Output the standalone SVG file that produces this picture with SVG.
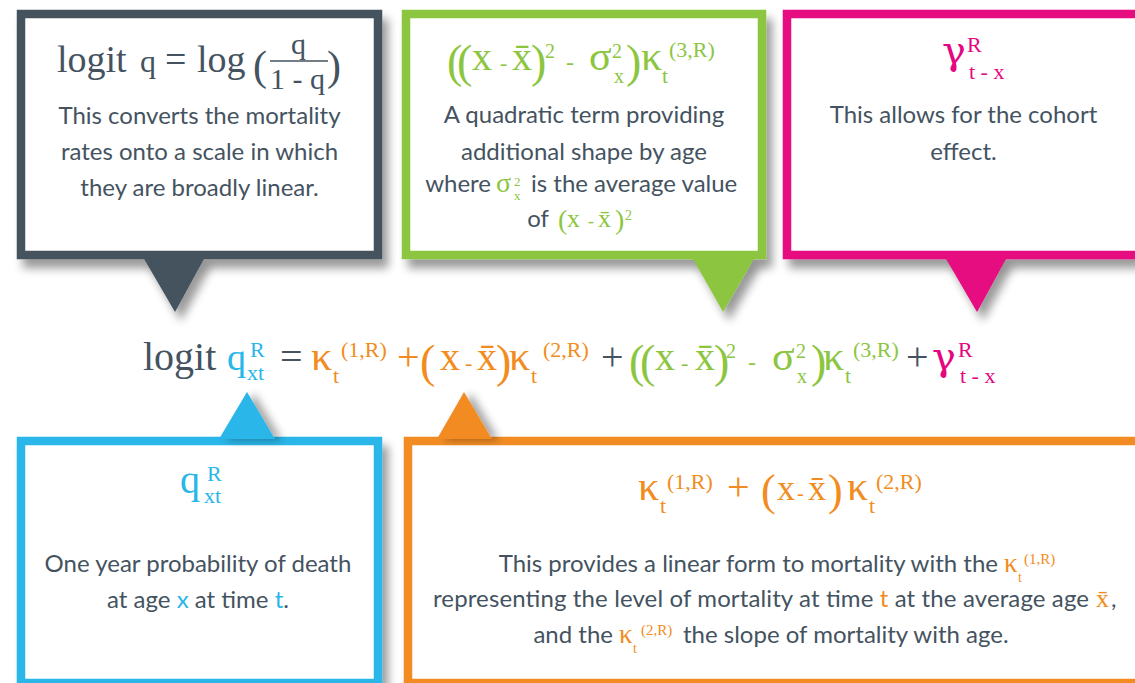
<svg xmlns="http://www.w3.org/2000/svg" width="1135" height="683" viewBox="0 0 1135 683">
<defs>
<filter id="sh" x="-10%" y="-10%" width="130%" height="140%">
<feGaussianBlur in="SourceAlpha" stdDeviation="5"/>
<feOffset dx="6" dy="9" result="o"/>
<feComponentTransfer><feFuncA type="linear" slope="0.4"/></feComponentTransfer>
<feMerge><feMergeNode/><feMergeNode in="SourceGraphic"/></feMerge>
</filter>
<filter id="sh2" x="-30%" y="-30%" width="160%" height="160%">
<feGaussianBlur in="SourceAlpha" stdDeviation="4"/>
<feOffset dx="7" dy="1"/>
<feComponentTransfer><feFuncA type="linear" slope="0.35"/></feComponentTransfer>
<feMerge><feMergeNode/><feMergeNode in="SourceGraphic"/></feMerge>
</filter>
<style>
.frame{fill:#fff;stroke-width:8.5}
.m{font-family:"Liberation Serif","Times New Roman",serif}
.g{font-family:"DejaVu Serif",serif}
.b{font-family:Lato,"Open Sans",sans-serif;font-size:24px;fill:#44535f}
.c{text-anchor:middle}
.e{text-anchor:end}
.dk{fill:#44535f}.gr{fill:#8cc63f}.mg{fill:#e5077f}.cy{fill:#29b6e8}.or{fill:#f28c20}
.sdk{stroke:#44535f}.sgr{stroke:#8cc63f}.smg{stroke:#e5077f}.scy{stroke:#29b6e8}.sor{stroke:#f28c20}
</style>
</defs>
<rect width="1135" height="683" fill="#fff"/>

<g id="node-logit">
<rect class="frame sdk" x="21" y="14" width="357" height="241" filter="url(#sh)"/>
<g class="m dk">
<text x="57" y="72" font-size="38">logit</text>
<text x="140" y="72" font-size="32">q</text>
<text x="165" y="72" font-size="38">=</text>
<text x="197" y="72" font-size="38">log</text>
<text x="253" y="80" font-size="42">(</text>
<text x="291" y="54" font-size="30">q</text>
<line x1="270" y1="61" x2="328" y2="61" stroke="#44535f" stroke-width="1.5"/>
<text x="270" y="89" font-size="30">1 - q</text>
<text x="327" y="80" font-size="42">)</text>
</g>
<text class="b c" x="199.5" y="124">This converts the mortality</text>
<text class="b c" x="199.5" y="160">rates onto a scale in which</text>
<text class="b c" x="199.5" y="196">they are broadly linear.</text>
</g>

<g id="node-quadratic">
<rect class="frame sgr" x="406" y="14" width="356" height="241" filter="url(#sh)"/>
<g class="m gr">
<text x="447" y="77" font-size="46">(</text>
<text x="457" y="77" font-size="46">(</text>
<text x="472" y="70" font-size="40">x</text>
<text x="500" y="70" font-size="22">-</text>
<text x="512" y="70" font-size="40">x̄</text>
<text x="531" y="77" font-size="46">)</text>
<text x="545" y="58" font-size="20">2</text>
<text x="566" y="70" font-size="24">-</text>
<text x="589" y="70" font-size="42">σ</text>
<text x="612" y="58" font-size="20">2</text>
<text x="614" y="83" font-size="20">x</text>
<text x="626" y="77" font-size="46">)</text>
<text x="641" y="70" font-size="42">κ</text>
<text x="662" y="83" font-size="22">t</text>
<text x="669" y="57" font-size="22">(3,R)</text>
</g>
<text class="b c" x="584" y="123">A quadratic term providing</text>
<text class="b c" x="584" y="160">additional shape by age</text>
<text class="b e" x="491" y="192">where</text>
<text class="m gr" x="496" y="192" font-size="28">σ</text>
<text class="m gr" x="514" y="186" font-size="13">2</text>
<text class="m gr" x="514" y="200" font-size="13">x</text>
<text class="b" x="531" y="192">is the average value</text>
<text class="b e" x="549" y="227">of</text>
<g class="m gr">
<text x="558" y="229" font-size="28">(</text>
<text x="567" y="227" font-size="26">x</text>
<text x="588" y="227" font-size="18">-</text>
<text x="598" y="227" font-size="26">x̄</text>
<text x="615" y="229" font-size="28">)</text>
<text x="625" y="220" font-size="14">2</text>
</g>
</g>

<g id="node-cohort">
<rect class="frame smg" x="787" y="14" width="357" height="241" filter="url(#sh)"/>
<text class="g mg" x="942" y="64" font-size="40">γ</text>
<g class="m mg">
<text x="967" y="52" font-size="22">R</text>
<text x="969" y="79" font-size="22">t - x</text>
</g>
<text class="b c" x="963.5" y="123">This allows for the cohort</text>
<text class="b c" x="963.5" y="160">effect.</text>
</g>

<g id="node-q">
<rect class="frame scy" x="21" y="441" width="357" height="242" filter="url(#sh)"/>
<g class="m cy">
<text x="180" y="493" font-size="40">q</text>
<text x="207" y="481" font-size="22">R</text>
<text x="204" y="503" font-size="22">xt</text>
</g>
<text class="b c" x="198" y="572">One year probability of death</text>
<text class="b c" x="198" y="608">at age <tspan class="cy">x</tspan> at time <tspan class="cy">t</tspan>.</text>
</g>

<g id="node-linear">
<rect class="frame sor" x="408" y="441" width="736" height="242" filter="url(#sh)"/>
<g class="m or">
<text x="638" y="500" font-size="42">κ</text>
<text x="660" y="513" font-size="22">t</text>
<text x="667" y="489" font-size="22">(1,R)</text>
<text x="727" y="500" font-size="40">+</text>
<text x="761" y="505" font-size="44">(</text>
<text x="777" y="500" font-size="36">x</text>
<text x="797" y="500" font-size="20">-</text>
<text x="808" y="500" font-size="36">x̄</text>
<text x="828" y="505" font-size="44">)</text>
<text x="847" y="500" font-size="42">κ</text>
<text x="869" y="513" font-size="22">t</text>
<text x="876" y="489" font-size="22">(2,R)</text>
</g>
<text class="b e" x="998" y="572">This provides a linear form to mortality with the</text>
<text class="m or" x="1004" y="572" font-size="27">κ</text>
<text class="m or" x="1018" y="582" font-size="14">t</text>
<text class="m or" x="1024" y="564" font-size="15">(1,R)</text>
<text class="b" x="433" y="607" textLength="656" lengthAdjust="spacing">representing the level of mortality at time <tspan class="or">t</tspan> at the average age</text>
<text class="m or" x="1096" y="607" font-size="26">x̄</text>
<text class="b" x="1111" y="607">,</text>
<text class="b e" x="613" y="643">and the</text>
<text class="m or" x="619" y="643" font-size="27">κ</text>
<text class="m or" x="633" y="653" font-size="14">t</text>
<text class="m or" x="641" y="635" font-size="15">(2,R)</text>
<text class="b" x="683" y="643">the slope of mortality with age.</text>
</g>

<g id="equation" class="m">
<text class="dk" x="143" y="370" font-size="40">logit</text>
<text class="cy" x="227" y="370" font-size="38">q</text>
<text class="cy" x="250" y="357" font-size="22">R</text>
<text class="cy" x="247" y="380" font-size="22">xt</text>
<text class="dk" x="280" y="370" font-size="40">=</text>
<text class="or" x="311" y="370" font-size="42">κ</text>
<text class="or" x="333" y="383" font-size="22">t</text>
<text class="or" x="341" y="357" font-size="22">(1,R)</text>
<text class="or" x="397" y="370" font-size="40">+</text>
<text class="or" x="420" y="377" font-size="46">(</text>
<text class="or" x="440" y="370" font-size="40">x</text>
<text class="or" x="465" y="370" font-size="22">-</text>
<text class="or" x="477" y="370" font-size="40">x̄</text>
<text class="or" x="496" y="377" font-size="46">)</text>
<text class="or" x="509" y="370" font-size="42">κ</text>
<text class="or" x="531" y="383" font-size="22">t</text>
<text class="or" x="543" y="357" font-size="22">(2,R)</text>
<text class="dk" x="601" y="370" font-size="40">+</text>
<text class="gr" x="629" y="377" font-size="46">(</text>
<text class="gr" x="640" y="377" font-size="46">(</text>
<text class="gr" x="655" y="370" font-size="40">x</text>
<text class="gr" x="681" y="370" font-size="22">-</text>
<text class="gr" x="695" y="370" font-size="40">x̄</text>
<text class="gr" x="714" y="377" font-size="46">)</text>
<text class="gr" x="726" y="358" font-size="20">2</text>
<text class="gr" x="748" y="370" font-size="24">-</text>
<text class="gr" x="772" y="370" font-size="42">σ</text>
<text class="gr" x="796" y="358" font-size="20">2</text>
<text class="gr" x="797" y="383" font-size="20">x</text>
<text class="gr" x="811" y="377" font-size="46">)</text>
<text class="gr" x="823" y="370" font-size="42">κ</text>
<text class="gr" x="845" y="383" font-size="22">t</text>
<text class="gr" x="853" y="357" font-size="22">(3,R)</text>
<text class="dk" x="906" y="370" font-size="40">+</text>
<text class="g mg" x="932" y="370" font-size="40">γ</text>
<text class="mg" x="958" y="357" font-size="22">R</text>
<text class="mg" x="960" y="383" font-size="22">t - x</text>
</g>

<g id="connectors">
<polygon class="dk" points="143,257 205,257 175,312" filter="url(#sh)"/>
<polygon class="gr" points="692,257 755,257 723,312" filter="url(#sh)"/>
<polygon class="mg" points="945,257 1007,257 977,312" filter="url(#sh)"/>
<polygon class="cy" points="219,439 275,439 247,392" filter="url(#sh2)"/>
<polygon class="or" points="437,439 492,439 464,392" filter="url(#sh2)"/>
</g>
</svg>
